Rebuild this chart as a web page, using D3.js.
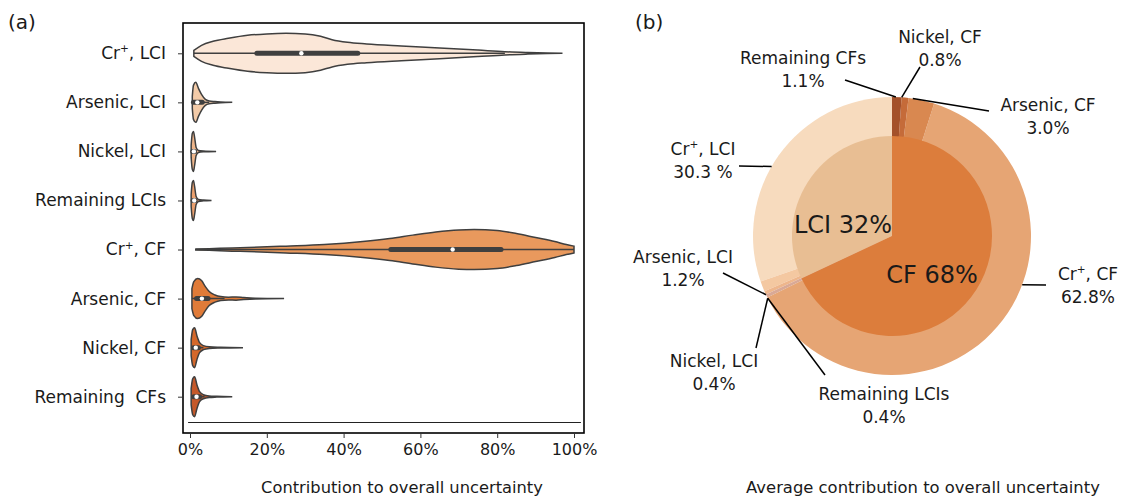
<!DOCTYPE html>
<html>
<head>
<meta charset="utf-8">
<script src="https://cdn.jsdelivr.net/npm/d3@7"></script>
<style>
  body { margin: 0; background: #fff; }
  svg text { font-family: "DejaVu Sans", sans-serif; fill: #1a1a1a; white-space: pre; }
</style>
</head>
<body>
<div id="chart"></div>
<script>
// categories (left panel, top to bottom)
const categories = ['Cr+, LCI', 'Arsenic, LCI', 'Nickel, LCI', 'Remaining LCIs',
                    'Cr+, CF', 'Arsenic, CF', 'Nickel, CF', 'Remaining  CFs'];

// violin density profiles: [contribution %, relative half width]
const profiles = [
  [[1,0.15],[3,0.4],[6,0.6],[10,0.75],[15,0.9],[20,0.97],[25,1],[30,0.97],[34,0.85],[37,0.68],[41,0.55],[46,0.47],[55,0.37],[65,0.27],[75,0.16],[82,0.08],[88,0.04],[93,0.015],[97,0]],
  [[0.6,0.3],[0.9,0.85],[1.5,1],[2.2,0.7],[3,0.4],[4,0.15],[5,0.07],[6.5,0.04],[8,0.02],[11,0]],
  [[0.3,0.3],[0.6,0.9],[0.9,1],[1.2,0.7],[1.6,0.2],[2.2,0.05],[3.5,0.02],[6.8,0]],
  [[0.3,0.3],[0.6,0.9],[0.9,1],[1.2,0.7],[1.6,0.2],[2.2,0.05],[3.5,0.02],[5.6,0]],
  [[1.5,0.02],[5,0.04],[11,0.08],[15,0.1],[25,0.17],[35,0.25],[45,0.4],[52,0.55],[58,0.72],[64,0.88],[70,0.98],[74,1],[80,0.95],[85,0.8],[90,0.6],[95,0.4],[98,0.25],[100,0.17]],
  [[0.5,0.5],[1,0.85],[2,1],[3,0.9],[4,0.6],[5,0.35],[6.5,0.18],[8,0.1],[10,0.07],[12,0.08],[14,0.05],[17,0.02],[24.5,0]],
  [[0.3,0.4],[0.7,0.9],[1.2,1],[1.8,0.6],[2.5,0.25],[3.5,0.1],[5,0.04],[8,0.02],[13.8,0]],
  [[0.3,0.4],[0.7,0.9],[1.2,1],[1.8,0.6],[2.5,0.25],[3.5,0.1],[5,0.04],[7,0.02],[11,0]]
];

// box stats: [whisker low, q1, median, q3, whisker high]
const boxStats = [
  [1, 17.4, 29, 43.7, 82],
  [0.5, 0.9, 1.9, 3.2, 5],
  [0.3, 0.7, 1.0, 1.2, 1.8],
  [0.3, 0.8, 1.1, 1.3, 1.9],
  [1.5, 52.3, 68.4, 81, 100],
  [0.5, 1.7, 3.1, 4.7, 9],
  [0.3, 0.9, 1.5, 2.2, 3.5],
  [0.3, 1.0, 1.7, 2.5, 3.8]
];

const xTicks = [0, 20, 40, 60, 80, 100];

// right panel: pie data
const innerNames = ['LCI', 'CF'];
const innerValues = [32, 68];
const outerNames = ['Cr+, LCI', 'Arsenic, LCI', 'Nickel, LCI', 'Remaining LCIs',
                    'Cr+, CF', 'Arsenic, CF', 'Nickel, CF', 'Remaining CFs'];
const outerValues = [30.3, 1.2, 0.4, 0.4, 62.8, 3.0, 0.8, 1.1];
const outerLabels = ['30.3 %', '1.2%', '0.4%', '0.4%', '62.8%', '3.0%', '0.8%', '1.1%'];

// styles
const violinColors = ['#fbe7d8', '#f3cba8', '#eeb58a', '#eba06e', '#e9995d', '#e07b38', '#d4682b', '#c5592a'];
const outerColors = ['#f7dbbe', '#f4c8a1', '#eeb68c', '#d9a996', '#e6a574', '#d98850', '#c56b39', '#a4512a'];
const innerColors = ['#e8be93', '#dc7d3c'];

// label layout for pie annotations: text centre, first baseline, line start, end angle (deg, clockwise from top)
const pieLabelLayout = [
  { cx: 703, by: 155, lx: 739, ly: 166, ang: 300 },
  { cx: 683, by: 263, lx: 723, ly: 273, ang: 245 },
  { cx: 714, by: 367, lx: 756, ly: 348, ang: 243.4 },
  { cx: 884, by: 400, lx: 825, ly: 375, ang: 243.4 },
  { cx: 1088, by: 280, lx: 1046, ly: 285, ang: 110.5 },
  { cx: 1048, by: 111, lx: 989, ly: 111, ang: 8.6 },
  { cx: 940, by: 43, lx: 920, ly: 67, ang: 4 },
  { cx: 803, by: 64, lx: 845, ly: 80, ang: 1.6 }
];

const width = 1121, height = 501;
const frame = { left: 183, right: 584, top: 23, bottom: 433 };
const labelSize = 17;

const svg = d3.select('#chart').append('svg')
  .attr('width', width)
  .attr('height', height);

// writes "Cr+" with a superscript plus
function richText(text, str, size) {
  text.text(null);
  const m = str.match(/^Cr\+(.*)$/);
  if (!m) { text.text(str); return; }
  text.append('tspan').text('Cr');
  text.append('tspan').attr('dy', -size * 0.4).attr('font-size', size * 0.62).text('+');
  text.append('tspan').attr('dy', size * 0.4).text(m[1]);
}

// ---------- panel (a) ----------
const x = d3.scaleLinear().domain([0, 100]).range([190, 574]);
const y = d3.scalePoint().domain(categories).range([53.3, 396.7]);
const w = d3.scaleLinear().domain([0, 1]).range([0, 20]);

svg.append('text').attr('x', 8).attr('y', 29).attr('font-size', 20).text('(a)');

const violins = svg.append('g').selectAll('g')
  .data(categories)
  .join('g');

violins.append('path')
  .attr('d', (c, i) => d3.area()
      .x(d => x(d[0]))
      .y0(d => y(c) - w(d[1]))
      .y1(d => y(c) + w(d[1]))
      .curve(d3.curveMonotoneX)(profiles[i]))
  .attr('fill', (c, i) => violinColors[i])
  .attr('stroke', '#3f3f3f')
  .attr('stroke-width', 1.5);

violins.append('line')
  .attr('x1', (c, i) => x(boxStats[i][0]))
  .attr('x2', (c, i) => x(boxStats[i][4]))
  .attr('y1', c => y(c)).attr('y2', c => y(c))
  .attr('stroke', '#3f3f3f').attr('stroke-width', 1.5);

violins.append('line')
  .attr('x1', (c, i) => x(boxStats[i][1]))
  .attr('x2', (c, i) => x(boxStats[i][3]))
  .attr('y1', c => y(c)).attr('y2', c => y(c))
  .attr('stroke', '#3f3f3f').attr('stroke-width', 5)
  .attr('stroke-linecap', 'round');

violins.append('circle')
  .attr('cx', (c, i) => x(boxStats[i][2]))
  .attr('cy', c => y(c))
  .attr('r', 2.2)
  .attr('fill', '#fff');

// thin horizontal rule under the last row
svg.append('line')
  .attr('x1', x(-0.5)).attr('x2', x(101.8))
  .attr('y1', 422.5).attr('y2', 422.5)
  .attr('stroke', '#222').attr('stroke-width', 1);

svg.append('rect')
  .attr('x', frame.left).attr('y', frame.top)
  .attr('width', frame.right - frame.left)
  .attr('height', frame.bottom - frame.top)
  .attr('fill', 'none')
  .attr('stroke', '#000')
  .attr('stroke-width', 1.6);

const yAxis = svg.append('g')
  .attr('transform', `translate(${frame.left},0)`)
  .call(d3.axisLeft(y).tickSize(5).tickPadding(12));
yAxis.select('.domain').remove();
yAxis.selectAll('line').attr('stroke', '#333');
yAxis.selectAll('text')
  .attr('font-size', labelSize)
  .each(function (d) { richText(d3.select(this), d, labelSize); });

const xAxis = svg.append('g')
  .attr('transform', `translate(0,${frame.bottom})`)
  .call(d3.axisBottom(x).tickValues(xTicks).tickFormat(d => d + '%').tickSize(5).tickPadding(6));
xAxis.select('.domain').remove();
xAxis.selectAll('line').attr('stroke', '#333');
xAxis.selectAll('text').attr('font-size', 16).attr('fill', '#2a2a2a');

svg.append('text')
  .attr('x', 402).attr('y', 493)
  .attr('text-anchor', 'middle')
  .attr('font-size', 16.3)
  .attr('fill', '#2a2a2a')
  .text('Contribution to overall uncertainty');

// ---------- panel (b) ----------
const cx = 892, cy = 236, rOuter = 139, rInner = 100;

svg.append('text').attr('x', 635).attr('y', 29).attr('font-size', 20).text('(b)');

const pie = d3.pie().sort(null).startAngle(0).endAngle(-2 * Math.PI);
const pieG = svg.append('g').attr('transform', `translate(${cx},${cy})`);

pieG.selectAll('path.outer')
  .data(pie(outerValues))
  .join('path')
  .attr('class', 'outer')
  .attr('d', d3.arc().innerRadius(0).outerRadius(rOuter))
  .attr('fill', (d, i) => outerColors[i]);

pieG.selectAll('path.inner')
  .data(pie(innerValues))
  .join('path')
  .attr('class', 'inner')
  .attr('d', d3.arc().innerRadius(0).outerRadius(rInner))
  .attr('fill', (d, i) => innerColors[i]);

// centre labels
const innerLabelPos = [[843, 233], [932, 283]];
svg.selectAll('text.inner')
  .data(innerNames)
  .join('text')
  .attr('class', 'inner')
  .attr('x', (d, i) => innerLabelPos[i][0])
  .attr('y', (d, i) => innerLabelPos[i][1])
  .attr('text-anchor', 'middle')
  .attr('font-size', 24)
  .text((d, i) => `${d} ${innerValues[i]}%`);

// annotations
const ann = svg.append('g').selectAll('g')
  .data(outerNames)
  .join('g');

ann.append('line')
  .attr('x1', (d, i) => pieLabelLayout[i].lx)
  .attr('y1', (d, i) => pieLabelLayout[i].ly)
  .attr('x2', (d, i) => cx + rOuter * Math.sin(pieLabelLayout[i].ang * Math.PI / 180))
  .attr('y2', (d, i) => cy - rOuter * Math.cos(pieLabelLayout[i].ang * Math.PI / 180))
  .attr('stroke', '#000')
  .attr('stroke-width', 1.5);

ann.append('text')
  .attr('x', (d, i) => pieLabelLayout[i].cx)
  .attr('y', (d, i) => pieLabelLayout[i].by)
  .attr('text-anchor', 'middle')
  .attr('font-size', labelSize)
  .each(function (d) { richText(d3.select(this), d, labelSize); });

ann.append('text')
  .attr('x', (d, i) => pieLabelLayout[i].cx)
  .attr('y', (d, i) => pieLabelLayout[i].by + 23)
  .attr('text-anchor', 'middle')
  .attr('font-size', labelSize)
  .text((d, i) => outerLabels[i]);

svg.append('text')
  .attr('x', 923).attr('y', 493)
  .attr('text-anchor', 'middle')
  .attr('font-size', 16.4)
  .attr('fill', '#2a2a2a')
  .text('Average contribution to overall uncertainty');
</script>
</body>
</html>
